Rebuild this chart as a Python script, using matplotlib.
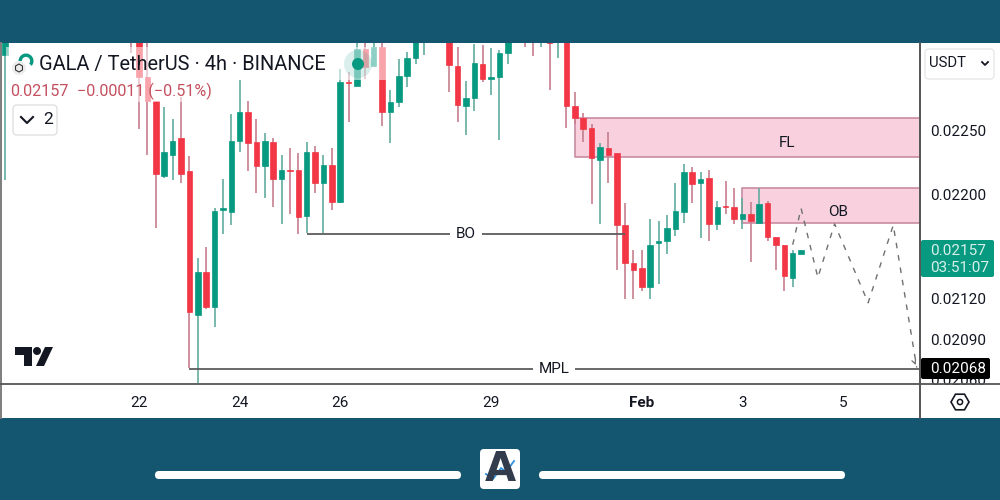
import matplotlib
matplotlib.use("Agg")
import matplotlib.pyplot as plt
from matplotlib.patches import Rectangle, FancyBboxPatch, Circle, Polygon, Wedge, RegularPolygon
from matplotlib.ticker import FixedLocator, FixedFormatter, NullLocator

plt.rcParams['font.family'] = ['Roboto', 'DejaVu Sans']

# candle slots, 6 per day, slot 0 is Jan 22 00:00
idx = [-16, -1, 0, 1, 2, 3, 4, 5, 6, 7, 8, 9, 10, 11, 12, 13, 14, 15, 16, 17,
       18, 19, 20, 21, 22, 23, 24, 25, 26, 27, 28, 29, 30, 31, 32, 33, 34, 37, 38, 39,
       40, 41, 42, 43, 44, 46, 47, 48, 49, 50, 51, 52, 53, 54, 55, 56, 57, 58, 59, 60,
       61, 62, 63, 64, 65, 66, 67, 68, 69, 70, 71, 72, 73, 74, 75, 76, 77, 78, 79]
# prices in 1e-5 USDT
opens = [2311, 2335, 2340, 2293, 2274, 2214, 2231, 2244, 2218, 2108, 2140, 2114, 2188, 2186, 2242, 2265, 2241, 2222, 2241, 2212,
         2219, 2219, 2183, 2233, 2209, 2223, 2194, 2289, 2286, 2316, 2302, 2318, 2265, 2273, 2294, 2309, 2330, 2335, 2302, 2270,
         2276, 2304, 2292, 2293, 2313, 2340, 2340, 2330, 2340, 2330, 2335, 2270, 2260, 2252, 2227, 2236, 2232, 2176, 2147, 2143,
         2129, 2162, 2164, 2173, 2186, 2217, 2209, 2213, 2177, 2191, 2190, 2181, 2185, 2178, 2193, 2167, 2161, 2136, 2154]
highs = [2340, 2340, 2340, 2340, 2274, 2269, 2259, 2277, 2230, 2151, 2159, 2189, 2212, 2263, 2291, 2274, 2259, 2248, 2244, 2231,
         2236, 2232, 2241, 2238, 2231, 2236, 2300, 2297, 2330, 2325, 2321, 2321, 2283, 2308, 2314, 2335, 2345, 2340, 2318, 2290,
         2320, 2319, 2317, 2315, 2335, 2345, 2345, 2345, 2345, 2345, 2340, 2281, 2264, 2255, 2240, 2249, 2232, 2193, 2157, 2157,
         2181, 2179, 2184, 2209, 2224, 2221, 2217, 2219, 2195, 2210, 2205, 2197, 2194, 2205, 2195, 2167, 2161, 2157, 2157]
lows = [2211, 2313, 2251, 2231, 2174, 2213, 2211, 2209, 2069, 2058, 2112, 2099, 2169, 2176, 2233, 2218, 2201, 2197, 2190, 2177,
        2185, 2169, 2170, 2201, 2170, 2188, 2193, 2257, 2286, 2292, 2301, 2254, 2240, 2269, 2285, 2304, 2311, 2281, 2257, 2247,
        2266, 2289, 2279, 2243, 2304, 2318, 2310, 2318, 2283, 2309, 2252, 2255, 2241, 2192, 2177, 2209, 2142, 2120, 2120, 2126,
        2120, 2131, 2154, 2168, 2178, 2193, 2166, 2164, 2172, 2185, 2177, 2173, 2148, 2177, 2164, 2142, 2126, 2129, 2154]
closes = [2330, 2330, 2293, 2274, 2216, 2233, 2242, 2216, 2110, 2140, 2114, 2187, 2189, 2242, 2265, 2240, 2222, 2242, 2212, 2219,
          2218, 2182, 2233, 2209, 2223, 2194, 2289, 2288, 2316, 2301, 2318, 2265, 2273, 2294, 2309, 2330, 2340, 2303, 2271, 2276,
          2305, 2292, 2293, 2313, 2330, 2330, 2330, 2340, 2321, 2340, 2270, 2260, 2251, 2228, 2237, 2231, 2176, 2147, 2142, 2129,
          2161, 2164, 2174, 2187, 2217, 2208, 2212, 2177, 2190, 2190, 2181, 2185, 2179, 2192, 2167, 2161, 2137, 2155, 2157]

date_slots = [0, 12, 24, 42, 60, 72, 84]
date_labels = ['22', '24', '26', '29', 'Feb', '3', '5']
price_ticks = [0.02250, 0.02200, 0.02120, 0.02090, 0.02060]

fl_zone = (52, 2260, 2229)
ob_zone = (72, 2205, 2178)
bo_line = (20, 58, 2169)
mpl_line = (6, 2068)
path_slots = [78, 79, 81, 83, 87, 90, 92.8]
path_prices = [2161, 2189, 2136, 2177, 2117, 2176, 2069]

UNIT = 1e-5
GREEN = '#089981'
RED = '#f23645'
TEAL_BG = '#14556f'
GREY = '#5d5d5d'

fig = plt.figure(figsize=(10, 5), dpi=100, facecolor=TEAL_BG)

# white chart card behind everything
bg = fig.add_axes([0, 0, 1, 1], zorder=0)
bg.set_xlim(0, 1000)
bg.set_ylim(500, 0)
bg.axis('off')
bg.add_patch(Rectangle((0, 43), 1000, 375, fc='white', ec='none'))

# main price pane
ax = fig.add_axes([1 / 1000, 116 / 500, 919 / 1000, 341 / 500], zorder=1)
ax.patch.set_alpha(0)
ax.set_yscale('log')
ax.set_xlim(-16.48, 93.19)
ax.set_ylim(0.02057, 0.02321)
for s in ax.spines.values():
    s.set_visible(False)

# zones
for start, top, bottom in (fl_zone, ob_zone):
    ax.fill_between([start, 94], bottom * UNIT, top * UNIT, fc='#f8d0de', ec='#c98ba3', lw=1.2, zorder=1)

# candles
for i, o, h, l, c in zip(idx, opens, highs, lows, closes):
    up = c >= o
    ax.vlines(i, l * UNIT, h * UNIT, color='#62ab9e' if up else '#c67f8e', lw=1.2, zorder=2)
    ax.bar(i, abs(c - o) * UNIT, bottom=min(o, c) * UNIT, width=0.66,
           color=GREEN if up else RED, edgecolor=GREEN if up else RED, lw=0.5, zorder=3)

# BO / MPL levels
ax.hlines(bo_line[2] * UNIT, bo_line[0], bo_line[1], color=GREY, lw=1.3, zorder=4)
ax.hlines(mpl_line[1] * UNIT, mpl_line[0], 94, color=GREY, lw=1.3, zorder=4)
label_box = dict(fc='white', ec='none', pad=4.2)
ax.text(39, bo_line[2] * UNIT, 'BO', ha='center', va='center', fontsize=11, color='#131722', bbox=label_box, zorder=5)
ax.text(49.5, mpl_line[1] * UNIT, 'MPL', ha='center', va='center', fontsize=11, color='#131722', bbox=label_box, zorder=5)
ax.text(77.3, 2240 * UNIT, 'FL', ha='center', va='center', fontsize=11, color='#131722', zorder=5)
ax.text(83.4, 2186 * UNIT, 'OB', ha='center', va='center', fontsize=11, color='#131722', zorder=5)

# projected path
ax.plot(path_slots, [p * UNIT for p in path_prices], color='#707070', lw=1.0, dashes=(4, 5), dash_capstyle='butt', zorder=5)
ax.annotate('', xy=(path_slots[-1], path_prices[-1] * UNIT), xytext=(-2, 5), textcoords='offset points',
            arrowprops=dict(arrowstyle='->', color='#707070', lw=0.9, mutation_scale=7), zorder=5)

ax.yaxis.tick_right()
ax.yaxis.set_major_locator(FixedLocator(price_ticks))
ax.yaxis.set_major_formatter(FixedFormatter([f'{p:.5f}' for p in price_ticks]))
ax.yaxis.set_minor_locator(NullLocator())
ax.set_xticks(date_slots)
ax.set_xticklabels(date_labels)
ax.tick_params(axis='both', length=0, labelsize=11, colors='#131722')
ax.tick_params(axis='y', pad=7)
ax.tick_params(axis='x', pad=8.5)
ax.get_xticklabels()[4].set_fontweight('bold')

# everything the TradingView UI puts on top, in screen pixels
ui = fig.add_axes([0, 0, 1, 1], zorder=2)
ui.set_xlim(0, 1000)
ui.set_ylim(500, 0)
ui.axis('off')
ui.patch.set_alpha(0)

# legend veil over the candles
ui.add_patch(Rectangle((6, 47), 388, 33, fc='white', ec='none', alpha=0.55))
ui.add_patch(Rectangle((6, 80), 209, 22, fc='white', ec='none', alpha=0.55))

# hide the tick label that runs under the time strip
ui.add_patch(Rectangle((921, 384.5), 78, 33, fc='white', ec='none'))

# pane borders
ui.plot([1, 1], [43, 418], color='#7d7d7d', lw=1.4)
ui.plot([920, 920], [43, 418], color='#555555', lw=1.4)
ui.plot([0, 1000], [384, 384], color='#555555', lw=1.3)

# symbol logo and title
ui.add_patch(Wedge((26, 61), 7.5, 180, 400, width=3.4, fc=GREEN, ec='none'))
ui.add_patch(Circle((19, 68), 7, fc='#ededed', ec='none'))
ui.add_patch(RegularPolygon((19, 68), 6, radius=4, fc='none', ec='#333333', lw=0.8))
ui.text(39, 64.5, 'GALA / TetherUS · 4h · BINANCE', fontsize=14.4, color='#131722', va='center', ha='left')
ui.text(10, 91, '0.02157', fontsize=11.6, color='#c4505f', va='center', ha='left')
ui.text(77, 91, '−0.00011 (−0.51%)', fontsize=11.6, color='#c4505f', va='center', ha='left')

# collapse button
ui.add_patch(FancyBboxPatch((13, 105), 44, 30, boxstyle='round,pad=0,rounding_size=4', fc='white', ec='#e0e0e0', lw=1))
ui.plot([21, 27, 33], [117, 123, 117], color='#131722', lw=1.5)
ui.text(48, 120, '2', fontsize=12.5, color='#131722', ha='center', va='center')

# pulsing dot on the last bar
ui.add_patch(Circle((358, 64), 14, fc=GREEN, ec='none', alpha=0.15))
ui.add_patch(Circle((358, 64), 6, fc=GREEN, ec='none'))

# tradingview mark
ui.add_patch(Polygon([(15, 347), (32, 347), (32, 366), (24, 366), (24, 355), (15, 355)], fc='#131722', ec='none'))
ui.add_patch(Circle((37, 351), 4, fc='#131722', ec='none'))
ui.add_patch(Polygon([(45, 347), (53, 347), (44, 366), (36, 366)], fc='#131722', ec='none'))

# currency button
ui.add_patch(FancyBboxPatch((925, 49), 69, 30, boxstyle='round,pad=0,rounding_size=4', fc='white', ec='#e8e8e8', lw=1))
ui.text(929, 63, 'USDT', fontsize=10.7, color='#131722', va='center', ha='left')
ui.plot([982, 985, 988], [62, 65, 62], color='#131722', lw=1.3)

# last price and level tags
ui.add_patch(FancyBboxPatch((921, 240), 73, 37, boxstyle='round,pad=0,rounding_size=2', fc=GREEN, ec='none'))
ui.text(930, 251, '0.02157', fontsize=11, color='#d8f0ea', va='center', ha='left')
ui.text(930, 268, '03:51:07', fontsize=11, color='#d8f0ea', va='center', ha='left')
ui.add_patch(FancyBboxPatch((921, 358), 69, 21, boxstyle='round,pad=0,rounding_size=2', fc='black', ec='none'))
ui.text(930, 369, '0.02068', fontsize=11, color='white', va='center', ha='left')

# settings hexagon
ui.add_patch(RegularPolygon((960, 402), 6, radius=9, orientation=0.5236, fc='none', ec='#131722', lw=1.2))
ui.add_patch(Circle((960, 402), 2.6, fc='none', ec='#131722', lw=1.1))

# footer bars and badge
ui.add_patch(FancyBboxPatch((155, 471), 306, 8, boxstyle='round,pad=0,rounding_size=4', fc='white', ec='none'))
ui.add_patch(FancyBboxPatch((539, 471), 306, 8, boxstyle='round,pad=0,rounding_size=4', fc='white', ec='none'))
ui.add_patch(FancyBboxPatch((480, 449), 40, 40, boxstyle='round,pad=0,rounding_size=4', fc='white', ec='none'))
ui.text(500, 470, 'A', fontsize=29, fontweight='bold', family='DejaVu Sans', color='#323c4c', ha='center', va='center')
ui.plot([486, 493, 501, 506, 514], [474, 479, 468, 472, 461], color='#2f8fe0', lw=1.3)

fig.savefig('out.png', dpi=100, facecolor=TEAL_BG)
plt.close(fig)
